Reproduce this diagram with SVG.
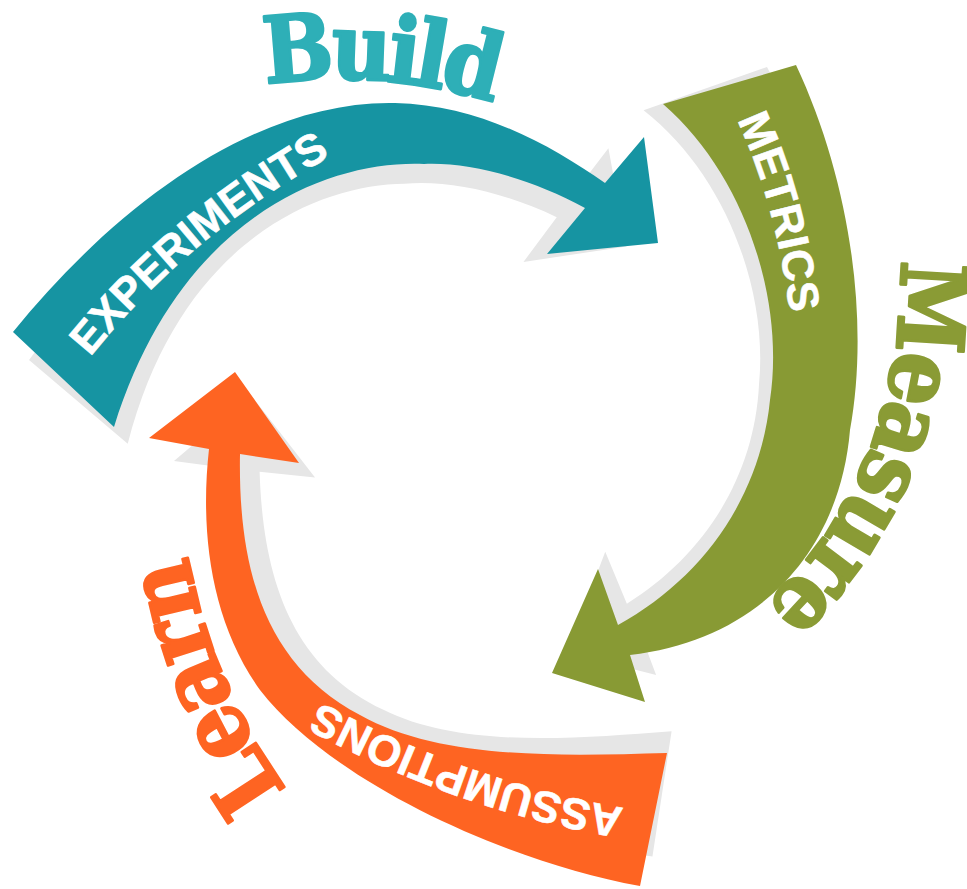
<svg xmlns="http://www.w3.org/2000/svg" xmlns:xlink="http://www.w3.org/1999/xlink" width="967" height="889" viewBox="0 0 967 889">
  <style>
    .shadow { fill: #e6e6e6; }
    .teal { fill: #1694a2; }
    .olive { fill: #889a34; }
    .orange { fill: #fe6422; }
    .band-label { font-family: "Liberation Sans", Arial, Helvetica, sans-serif; font-weight: bold; font-size: 44px; fill: #ffffff; stroke: #ffffff; stroke-width: 0.6; }
    .title { font-family: "DejaVu Serif Condensed", "DejaVu Serif", serif; font-stretch: condensed; font-weight: bold; font-size: 92px; stroke-width: 2.6; stroke-linejoin: round; }
    .title-build { fill: #2eafb7; stroke: #2eafb7; }
    .title-measure { fill: #8a9b35; stroke: #8a9b35; }
    .title-learn { fill: #fe6422; stroke: #fe6422; }
  </style>
  <defs>
    <!-- arrow outlines -->
    <path id="arrow-build" d="M13,332 C120,200 260,100 395,103 C480,105 550,145 605,183 L644,137 L658,243 L547,254 L585,208 C530,178 470,162 424,164 C330,160 180,215 114,427 Z"/>
    <path id="arrow-measure" d="M796,65 C850,180 870,320 850,430 C840,550 760,640 630,655 L645,702 L552,673 L598,569 L618,625 C700,580 760,500 770,400 C785,300 745,175 663,104 Z"/>
    <path id="arrow-learn" d="M667,753 L640,886 C500,860 330,780 260,690 C210,620 200,530 209,449 L149,438 L235,372 L299,463 L240,454 C238,570 265,665 360,715 C440,760 560,756 667,753 Z"/>
    <!-- text baselines, all running clockwise -->
    <path id="tp-experiments" d="M90,357 Q185,240 317,164 L370,133"/>
    <path id="tp-metrics" d="M737,120 Q775,200 790,313 L795,360"/>
    <path id="tp-assumptions" d="M624,808 Q470,782 328,706 L280,680"/>
    <path id="tp-build" d="M240,89 A514,514 0 0 1 520,112"/>
    <path id="tp-measure" d="M900,240 C905,380 870,500 770,600 L740,625"/>
    <path id="tp-learn" d="M287,790 Q215,690 190,565 L184,520"/>
  </defs>

  <rect width="967" height="889" fill="#ffffff"/>

  <!-- the three curved arrows of the loop, each over its soft grey drop shape -->
  <g id="connectors">
    <use xlink:href="#arrow-build" class="shadow" transform="matrix(0.9328,-0.0473,0.0473,0.9328,1.2,50.9)"/>
    <use xlink:href="#arrow-measure" class="shadow" transform="matrix(0.9427,-0.0494,0.0494,0.9427,13.4,45)"/>
    <use xlink:href="#arrow-learn" class="shadow" transform="matrix(0.9329,-0.0456,0.0456,0.9329,15,59.2)"/>
    <use xlink:href="#arrow-build" class="teal"/>
    <use xlink:href="#arrow-measure" class="olive"/>
    <use xlink:href="#arrow-learn" class="orange"/>
  </g>

  <g id="build">
    <text class="title title-build" letter-spacing="-5"><textPath xlink:href="#tp-build" startOffset="139" text-anchor="middle">Build</textPath></text>
    <text class="band-label"><textPath xlink:href="#tp-experiments">EXPERIMENTS</textPath></text>
  </g>

  <g id="measure">
    <text class="title title-measure" letter-spacing="-3"><textPath xlink:href="#tp-measure" startOffset="20">Measure</textPath></text>
    <text class="band-label" letter-spacing="0.5"><textPath xlink:href="#tp-metrics">METRICS</textPath></text>
  </g>

  <g id="learn">
    <text class="title title-learn" letter-spacing="-3"><textPath xlink:href="#tp-learn">Learn</textPath></text>
    <text class="band-label"><textPath xlink:href="#tp-assumptions">ASSUMPTIONS</textPath></text>
  </g>
</svg>
